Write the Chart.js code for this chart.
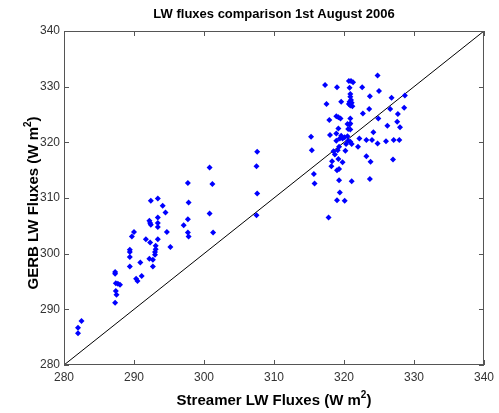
<!DOCTYPE html>
<html>
<head>
<meta charset="utf-8">
<script src="https://cdn.jsdelivr.net/npm/chart.js@4/dist/chart.umd.min.js"></script>
<style>
  html, body { margin: 0; padding: 0; background: #fff; }
  #wrap { width: 499px; height: 413px; position: relative; }
</style>
</head>
<body>
<div id="wrap"><canvas id="lwChart"></canvas></div>
<script>
// Streamer LW flux (x) and GERB LW flux (y), W m-2
const streamerLW = [
  282.0, 282.0, 282.5, 287.3, 287.3, 287.4, 287.7, 288.0, 287.4, 287.5,
  287.3, 289.4, 289.4, 289.4, 289.4, 290.9, 290.3, 290.5, 291.1, 292.2,
  292.7, 292.7, 293.1, 293.1, 293.0, 293.0, 295.2, 292.3, 291.7, 293.4,
  290.0, 289.7, 294.7, 293.4, 293.4, 293.4, 292.2, 292.3, 292.4, 292.4,
  293.4, 294.1, 294.5, 297.7, 297.8, 297.7, 297.1, 297.7, 297.8, 300.8,
  301.2, 300.8, 301.3, 307.6, 307.5, 307.6, 307.5, 315.3, 315.4, 315.7,
  315.8,
  324.8, 320.7, 321.0, 321.3, 317.3, 319.0, 320.8, 322.6, 325.0, 320.9,
  323.7, 320.9, 321.0, 320.8, 321.1, 319.6, 317.5, 320.7, 320.9, 321.2,
  326.8, 323.6, 322.7, 318.9, 319.2, 319.5, 320.9, 317.9, 320.5, 320.8,
  320.9, 326.2, 319.2, 320.6, 320.9, 324.2, 318.0, 318.9, 319.6, 319.4,
  319.8, 320.1, 320.5, 318.9, 320.6, 320.9, 321.1, 320.3, 322.2, 323.2,
  324.0, 324.8, 326.0, 327.1, 327.9, 319.3, 322.0, 318.5, 319.1, 320.2,
  318.7, 319.2, 319.8, 318.3, 323.2, 323.8, 318.2, 319.0, 319.3, 319.3,
  321.1, 323.7, 327.0, 319.4, 319.0, 320.1, 317.8, 328.7, 326.6, 328.6,
  324.9, 327.7, 327.6, 328.0
];
const gerbLW = [
  286.7, 285.7, 287.9, 296.7, 296.4, 294.7, 294.6, 294.4, 293.3, 292.6,
  291.2, 300.7, 300.3, 299.4, 297.7, 298.4, 295.5, 295.1, 296.0, 299.1,
  298.9, 297.7, 301.4, 300.8, 300.3, 299.8, 301.2, 302.0, 302.6, 302.6,
  303.9, 303.1, 303.9, 306.5, 305.5, 304.8, 305.9, 305.5, 305.2, 309.5,
  309.9, 308.6, 307.4, 312.7, 309.2, 306.2, 305.1, 303.8, 303.1, 315.5,
  312.5, 307.2, 303.8, 318.3, 315.7, 310.8, 306.9, 321.0, 318.6, 314.3,
  312.6,
  332.0, 331.0, 331.0, 330.8, 330.3, 329.9, 329.8, 329.9, 329.2, 328.7,
  328.3, 328.2, 327.6, 327.3, 327.1, 327.3, 326.9, 326.9, 326.6, 326.5,
  328.0, 326.0, 325.2, 324.7, 324.5, 324.3, 324.3, 324.0, 323.3, 323.2,
  323.4, 323.0, 322.5, 322.4, 322.3, 321.8, 321.3, 321.6, 321.2, 320.7,
  320.7, 320.9, 321.1, 320.3, 320.3, 320.1, 319.7, 319.7, 320.7, 320.4,
  320.4, 319.8, 320.2, 320.4, 320.4, 319.2, 319.2, 318.4, 318.6, 318.5,
  317.8, 317.0, 316.4, 316.6, 317.5, 316.5, 315.7, 315.0, 315.2, 313.2,
  313.0, 313.4, 316.9, 311.0, 309.6, 309.5, 306.5, 328.4, 326.0, 326.2,
  324.3, 325.1, 323.7, 322.7
];
const oneToOne = [280, 340];
const tickValues = [280, 290, 300, 310, 320, 330, 340];

const titleText = "LW fluxes comparison 1st August 2006";
const xTitle = "Streamer LW Fluxes (W m";
const yTitle = "GERB LW Fluxes (W m";

const points = streamerLW.map((x, i) => ({ x: x, y: gerbLW[i] }));
const diag = oneToOne.map(v => ({ x: v, y: v }));

const FONT = "Arial, 'Liberation Sans', sans-serif";

// draws the box, inward ticks (MATLAB style) and the titles
const matlabFrame = {
  id: "matlabFrame",
  beforeDraw(chart) {
    const c = chart.ctx;
    c.save();
    c.fillStyle = "#fff";
    c.fillRect(0, 0, chart.width, chart.height);
    c.restore();
  },
  afterDraw(chart) {
    const c = chart.ctx;
    const a = chart.chartArea;
    const xs = chart.scales.x, ys = chart.scales.y;
    c.save();
    c.strokeStyle = "#555";
    c.lineWidth = 1;
    c.strokeRect(a.left + 0.5, a.top + 0.5, a.right - a.left - 1, a.bottom - a.top - 1);
    c.beginPath();
    tickValues.forEach(v => {
      const px = Math.round(xs.getPixelForValue(v)) + 0.5;
      c.moveTo(px, a.bottom); c.lineTo(px, a.bottom - 5);
      c.moveTo(px, a.top); c.lineTo(px, a.top + 5);
      const py = Math.round(ys.getPixelForValue(v)) + 0.5;
      c.moveTo(a.left, py); c.lineTo(a.left + 5, py);
      c.moveTo(a.right, py); c.lineTo(a.right - 5, py);
    });
    c.stroke();

    const cx = (a.left + a.right) / 2;
    c.fillStyle = "#000";
    c.textAlign = "center";
    c.textBaseline = "alphabetic";
    c.font = "bold 13px " + FONT;
    c.fillText(titleText, cx, 18);

    // axis titles with superscript
    const drawLabel = (txt, x, y) => {
      c.font = "bold 15px " + FONT;
      const w1 = c.measureText(txt).width;
      c.font = "bold 10px " + FONT;
      const w2 = c.measureText("2").width;
      c.font = "bold 15px " + FONT;
      const w3 = c.measureText(")").width;
      let sx = x - (w1 + w2 + w3) / 2;
      c.textAlign = "left";
      c.fillText(txt, sx, y);
      c.font = "bold 10px " + FONT;
      c.fillText("2", sx + w1, y - 7);
      c.font = "bold 15px " + FONT;
      c.fillText(")", sx + w1 + w2, y);
    };
    drawLabel(xTitle, cx, 405);
    c.save();
    c.translate(38, 203);
    c.rotate(-Math.PI / 2);
    drawLabel(yTitle, 0, 0);
    c.restore();
    c.restore();
  }
};

new Chart(document.getElementById("lwChart"), {
  type: "scatter",
  data: {
    datasets: [
      {
        label: "fluxes",
        data: points,
        pointStyle: "rectRot",
        pointRadius: 3,
        pointHoverRadius: 3,
        backgroundColor: "#0000ff",
        borderColor: "#0000ff",
        borderWidth: 0
      },
      {
        type: "line",
        label: "1:1",
        data: diag,
        borderColor: "#000",
        borderWidth: 1,
        pointRadius: 0,
        fill: false
      }
    ]
  },
  options: {
    responsive: true,
    maintainAspectRatio: false,
    animation: false,
    events: [],
    layout: { padding: { top: 31, right: 11, left: 0, bottom: 0 } },
    plugins: {
      legend: { display: false },
      title: { display: false },
      tooltip: { enabled: false }
    },
    scales: {
      x: {
        type: "linear",
        min: 280, max: 340,
        afterBuildTicks: s => { s.ticks = tickValues.map(v => ({ value: v })); },
        afterFit: s => { s.height = 48; },
        grid: { display: false, drawTicks: false },
        border: { display: false },
        ticks: { color: "#333", font: { size: 12, family: FONT }, padding: 5, maxRotation: 0 }
      },
      y: {
        type: "linear",
        min: 280, max: 340,
        afterBuildTicks: s => { s.ticks = tickValues.map(v => ({ value: v })); },
        afterFit: s => { s.width = 64; },
        grid: { display: false, drawTicks: false },
        border: { display: false },
        ticks: { color: "#333", font: { size: 12, family: FONT }, padding: 4 }
      }
    }
  },
  plugins: [matlabFrame]
});
</script>
</body>
</html>
